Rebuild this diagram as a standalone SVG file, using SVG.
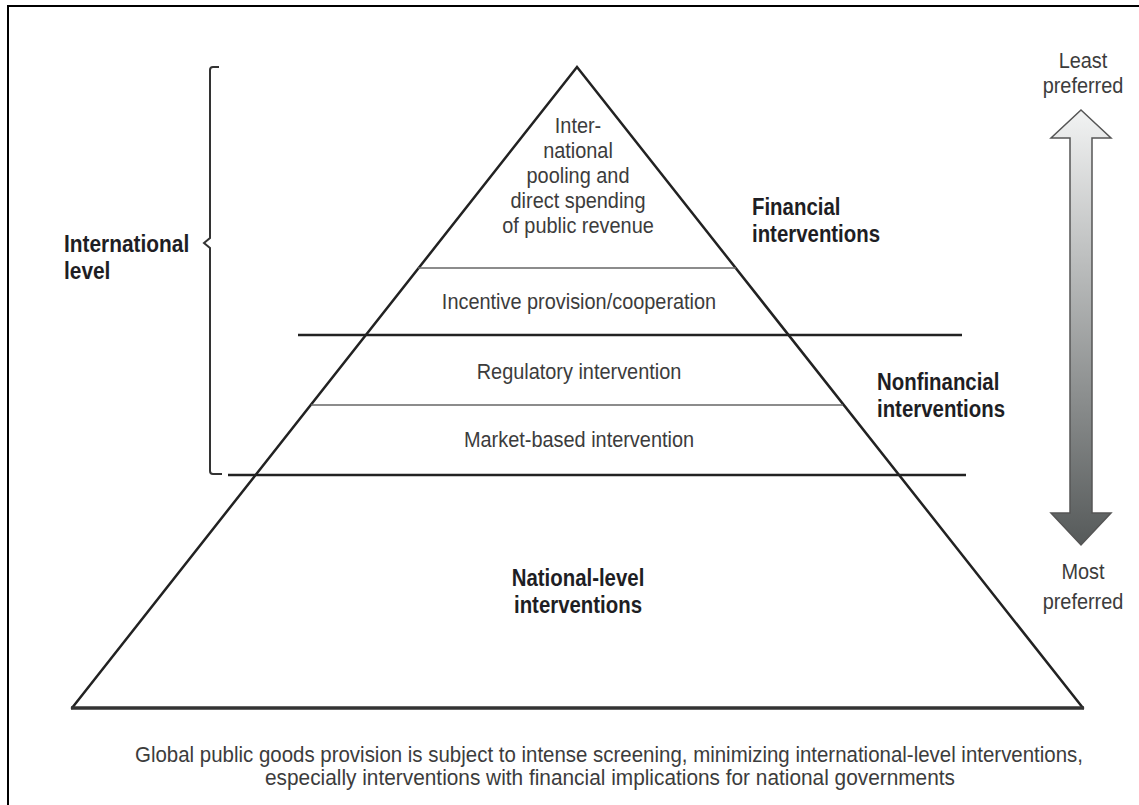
<svg xmlns="http://www.w3.org/2000/svg" width="1139" height="805" viewBox="0 0 1139 805">
  <style>
    text { font-family: "Liberation Sans", Arial, sans-serif; }
    .reg { font-size: 22px; fill: #3c3c3c; }
    .bold { font-size: 24px; font-weight: bold; fill: #1e1e24; }
    .cap { font-size: 21.5px; fill: #3c3c3c; }
    .mid { text-anchor: middle; }
    .edge { fill: none; stroke: #222; stroke-width: 2.5; stroke-linecap: round; stroke-linejoin: miter; }
    .thick { stroke: #222; stroke-width: 2.5; }
    .thin { stroke: #666; stroke-width: 1.6; }
    .base { stroke: #333; stroke-width: 3.5; }
    .brace { fill: none; stroke: #333; stroke-width: 2; }
  </style>
  <defs>
    <linearGradient id="prefGrad" x1="0" y1="0" x2="0" y2="1">
      <stop offset="0" stop-color="#f2f3f3"/>
      <stop offset="1" stop-color="#565a5a"/>
    </linearGradient>
  </defs>

  <!-- outer frame -->
  <path d="M8,805 V6 H1139" fill="none" stroke="#000" stroke-width="2"/>

  <!-- pyramid outline -->
  <g id="pyramid">
    <path class="edge" d="M72,708 L577,67 L1083,708"/>
    <line class="base" x1="71" y1="708" x2="1084" y2="708"/>
  </g>

  <!-- tier dividers -->
  <g id="dividers">
    <line class="thin" x1="418" y1="268" x2="736" y2="268"/>
    <line class="thick" x1="298" y1="335" x2="962" y2="335"/>
    <line class="thin" x1="311" y1="405" x2="843" y2="405"/>
    <line class="thick" x1="228" y1="475" x2="966" y2="475"/>
  </g>

  <!-- brace grouping the international tiers -->
  <g id="brace">
    <path class="brace" d="M219,67 H213 Q210,67 210,70 V238 L204,243 L210,248 V471 Q210,474 213,474 H222"/>
  </g>

  <!-- tier: pooling -->
  <g id="tier-pooling" class="reg mid">
    <text transform="translate(578 133) scale(0.905 1)">Inter-</text>
    <text transform="translate(578 158) scale(0.905 1)">national</text>
    <text transform="translate(578 183) scale(0.905 1)">pooling and</text>
    <text transform="translate(578 208) scale(0.905 1)">direct spending</text>
    <text transform="translate(578 233) scale(0.905 1)">of public revenue</text>
  </g>

  <g id="tier-incentive" class="reg mid">
    <text transform="translate(579 309) scale(0.905 1)">Incentive provision/cooperation</text>
  </g>

  <g id="tier-regulatory" class="reg mid">
    <text transform="translate(579 379) scale(0.905 1)">Regulatory intervention</text>
  </g>

  <g id="tier-market" class="reg mid">
    <text transform="translate(579 447) scale(0.905 1)">Market-based intervention</text>
  </g>

  <g id="tier-national" class="bold mid">
    <text transform="translate(578 586) scale(0.85 1)">National-level</text>
    <text transform="translate(578 613) scale(0.85 1)">interventions</text>
  </g>

  <!-- side labels -->
  <g id="label-financial" class="bold">
    <text transform="translate(752 215) scale(0.85 1)">Financial</text>
    <text transform="translate(752 242) scale(0.85 1)">interventions</text>
  </g>

  <g id="label-nonfinancial" class="bold">
    <text transform="translate(877 390) scale(0.85 1)">Nonfinancial</text>
    <text transform="translate(877 417) scale(0.85 1)">interventions</text>
  </g>

  <g id="label-international" class="bold">
    <text transform="translate(64 252) scale(0.87 1)">International</text>
    <text transform="translate(64 279) scale(0.87 1)">level</text>
  </g>

  <!-- preference scale -->
  <g id="preference-arrow">
    <path d="M1081,110 L1111,138 L1092,138 L1092,513 L1111,513 L1081,545 L1051,513 L1070,513 L1070,138 L1051,138 Z" fill="url(#prefGrad)" stroke="#555" stroke-width="1.5" stroke-linejoin="miter"/>
  </g>

  <g id="label-least" class="reg mid">
    <text transform="translate(1083 68) scale(0.905 1)">Least</text>
    <text transform="translate(1083 93) scale(0.905 1)">preferred</text>
  </g>

  <g id="label-most" class="reg mid">
    <text transform="translate(1083 579) scale(0.905 1)">Most</text>
    <text transform="translate(1083 609) scale(0.905 1)">preferred</text>
  </g>

  <!-- caption -->
  <g id="caption" class="cap mid">
    <text x="609" y="762" textLength="948" lengthAdjust="spacingAndGlyphs">Global public goods provision is subject to intense screening, minimizing international-level interventions,</text>
    <text x="610" y="785" textLength="690" lengthAdjust="spacingAndGlyphs">especially interventions with financial implications for national governments</text>
  </g>
</svg>
